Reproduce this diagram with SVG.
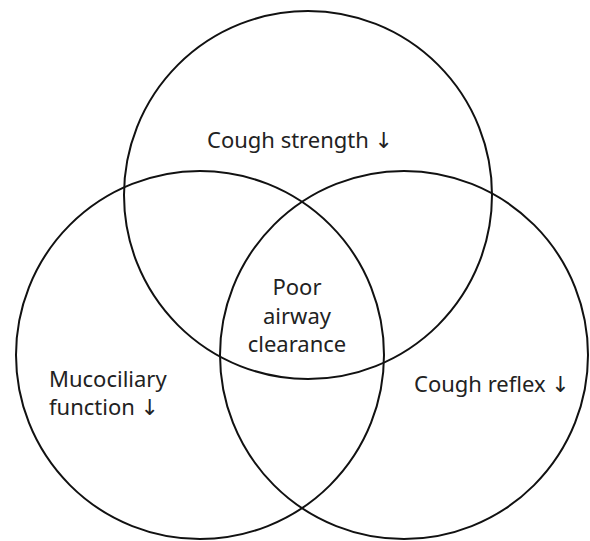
<svg xmlns="http://www.w3.org/2000/svg" width="590" height="541" viewBox="0 0 590 541">
<style>
.c{fill:none;stroke:#111;stroke-width:2}
.t{font-family:"Noto Sans","Open Sans","DejaVu Sans",sans-serif;font-size:22px;fill:#222}
</style>
<rect width="590" height="541" fill="#fff"/>
<g id="connectors"></g>
<g id="top-circle"><circle class="c" cx="308" cy="195" r="184"/><text class="t" x="300" y="148" text-anchor="middle">Cough strength ↓</text></g>
<g id="left-circle"><circle class="c" cx="200" cy="355" r="184"/><text class="t" x="49" y="387">Mucociliary</text><text class="t" x="49" y="415">function ↓</text></g>
<g id="right-circle"><circle class="c" cx="404" cy="355" r="184"/><text class="t" x="414" y="392">Cough reflex ↓</text></g>
<g id="center"><text class="t" text-anchor="middle" x="297"><tspan x="297" y="295">Poor</tspan><tspan x="297" y="324">airway</tspan><tspan x="297" y="352">clearance</tspan></text></g>
</svg>
